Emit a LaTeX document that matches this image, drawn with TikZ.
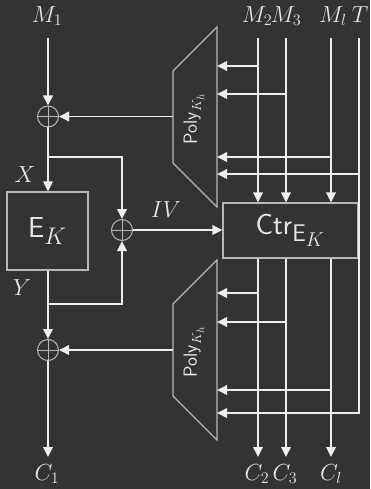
\documentclass[tikz,border=0pt]{standalone}
\usetikzlibrary{arrows.meta,calc}
\definecolor{bgc}{HTML}{333333}
\definecolor{linec}{HTML}{EEEEEE}
\definecolor{boxc}{HTML}{B8B8B8}
\definecolor{txtc}{HTML}{E8E8E8}
\newcommand{\mylab}[1]{\scalebox{1.12}{$#1$}}
\newcommand{\mybiglab}[1]{\scalebox{1.16}{$#1$}}
\newcommand{\mypolylab}{\scalebox{1.1}{$\mathsf{Poly}_{K_h}$}}
\tikzset{
  arr/.style={draw=linec, line width=1.9pt, -{Triangle[length=10pt,width=9.5pt]}},
  boxst/.style={draw=boxc, line width=1.1pt, rectangle, inner sep=0pt, text=txtc},
  xorc/.style={draw=boxc, line width=1pt, circle, minimum size=21pt, inner sep=0pt,
    path picture={\draw[boxc, line width=1pt] (path picture bounding box.north) -- (path picture bounding box.south)
      (path picture bounding box.west) -- (path picture bounding box.east);}},
  lbl/.style={text=txtc, font=\fontsize{20.74}{24}\selectfont, inner sep=0pt},
  bigt/.style={font=\fontsize{24.88}{30}\selectfont},
  polyt/.style={text=txtc, font=\fontsize{17.28}{20}\selectfont, rotate=90, inner sep=0pt},
  trap/.style={draw=boxc, line width=1.1pt}
}
\begin{document}
\begin{tikzpicture}[x=1pt,y=-1pt]
\fill[bgc] (0,0) rectangle (370,489);
\useasboundingbox (0,0) rectangle (370,489);

% labels top
\node[lbl] (m1) at (47,16) {\mylab{M_1}};
\node[lbl] (m2) at (257,16) {\mylab{M_2}};
\node[lbl] (m3) at (286,16) {\mylab{M_3}};
\node[lbl] (ml) at (333,16) {\mylab{M_l}};
\node[lbl] (tt) at (360,15) {\mylab{T}};

% bottom labels
\node[lbl] (c1) at (47,474) {\mylab{C_1}};
\node[lbl] (c2) at (257,474) {\mylab{C_2}};
\node[lbl] (c3) at (285,474) {\mylab{C_3}};
\node[lbl] (cl) at (331,474) {\mylab{C_l}};

\node[lbl] (xl) at (25,175) {\mylab{X}};
\node[lbl] (yl) at (22,288) {\mylab{Y}};
\node[lbl] (ivl) at (166,210) {\mylab{IV}};

% xors
\node[xorc] (x1) at (48,116.5) {};
\node[xorc] (x2) at (122,230) {};
\node[xorc] (x3) at (48,350) {};

% boxes
\node[boxst, minimum width=81pt, minimum height=78pt, bigt] (ek) at (47.5,231) {\mybiglab{\mathsf{E}_K}};
\node[boxst, minimum width=135pt, minimum height=55pt, bigt] (ctr) at (290.5,230.5) {\mybiglab{\mathsf{Ctr}_{\mathsf{E}_K}}};

% poly trapezoids
\draw[trap] (173,71) -- (217,27) -- (217,207) -- (173,163) -- cycle;
\draw[trap] (173,304) -- (217,260) -- (217,440) -- (173,396) -- cycle;
\node[polyt] (p1) at (194,119) {\mypolylab};
\node[polyt] (p2) at (194,352) {\mypolylab};
\coordinate (p1w) at (173,116.5);
\coordinate (p2w) at (173,350);
\coordinate (p1e) at (217,116.5);
\coordinate (p2e) at (217,350);

% left column
\coordinate (m1s) at (48,38);
\coordinate (c1e) at (48,457);
\coordinate (b1) at (48,157);
\coordinate (b2) at (48,304);
\draw[arr] (m1s) -- (x1);
\draw[arr] (p1w) -- (x1);
\draw[arr] (x1) -- (x1 |- ek.north);
\draw[arr] (b1) -| (x2);
\draw[arr] (ek.south -| x3) -- (x3);
\draw[arr] (b2) -| (x2);
\draw[arr] (p2w) -- (x3);
\draw[arr] (x3) -- (c1e);
\draw[arr] (x2) -- (ctr.west |- x2);

% right verticals
\coordinate (m2s) at (258,38);
\coordinate (m3s) at (286,38);
\coordinate (mls) at (331,38);
\coordinate (ts) at (359,38);
\coordinate (te) at (359,413);
\coordinate (c2e) at (258,457);
\coordinate (c3e) at (286,457);
\coordinate (cle) at (331,457);

\draw[arr] (m2s) -- (m2s |- ctr.north);
\draw[arr] (m3s) -- (m3s |- ctr.north);
\draw[arr] (mls) -- (mls |- ctr.north);
\draw[arr] (c2e |- ctr.south) -- (c2e);
\draw[arr] (c3e |- ctr.south) -- (c3e);
\draw[arr] (cle |- ctr.south) -- (cle);

% upper poly inputs
\coordinate (u1) at (258,66);
\coordinate (u2) at (286,94);
\coordinate (u3) at (331,157);
\coordinate (u4) at (359,174);
\draw[arr] (u1) -- (u1 -| p1e);
\draw[arr] (u2) -- (u2 -| p1e);
\draw[arr] (u3) -- (u3 -| p1e);
\draw[arr] (u4) -- (u4 -| p1e);

% lower poly inputs
\coordinate (l1) at (258,293);
\coordinate (l2) at (286,322);
\coordinate (l3) at (331,390);
\draw[arr] (l1) -- (l1 -| p2e);
\draw[arr] (l2) -- (l2 -| p2e);
\draw[arr] (l3) -- (l3 -| p2e);
\draw[arr] (ts) -- (te) -- (te -| p2e);
\end{tikzpicture}
\end{document}
